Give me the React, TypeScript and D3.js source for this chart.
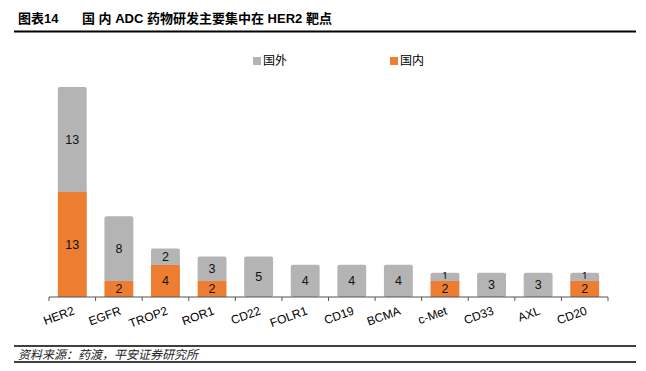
import * as d3 from "d3";

const categories = ["HER2", "EGFR", "TROP2", "ROR1", "CD22", "FOLR1", "CD19", "BCMA", "c-Met", "CD33", "AXL", "CD20"];
const domestic = [13, 2, 4, 2, 0, 0, 0, 0, 2, 0, 0, 2];
const foreign = [13, 8, 2, 3, 5, 4, 4, 4, 1, 3, 3, 1];
const seriesNames = ["国内", "国外"];
const colors = ["#ED7D31", "#B4B4B4"];

const width = 646,
  height = 371,
  axisLeft = 49,
  axisRight = 608,
  baseline = 297,
  top = 87;

const font = "'Liberation Sans', Arial, 'Noto Sans CJK SC', sans-serif";

export default function App() {
  const x = d3.scaleBand<string>().domain(categories).range([axisLeft, axisRight]).paddingInner(0.38).paddingOuter(0.19);
  const y = d3.scaleLinear().domain([0, 26]).range([baseline, top]);

  const rows = categories.map((c, i) => ({ cat: c, domestic: domestic[i], foreign: foreign[i] }));
  const stacked = d3.stack<any>().keys(["domestic", "foreign"])(rows);
  const step = (axisRight - axisLeft) / categories.length;

  return (
    <svg width={width} height={height} style={{ position: "absolute", left: 0, top: 0, background: "#fff" }} fontFamily={font}>
      {/* title */}
      <text x={18} y={23} fontSize={13} fontWeight="bold" fill="#000">图表14</text>
      <text x={82} y={23} fontSize={13} fontWeight="bold" fill="#000">国 内 ADC 药物研发主要集中在 HER2 靶点</text>
      <line x1={14} x2={636} y1={31.5} y2={31.5} stroke="#000" strokeWidth={2} />

      {/* legend */}
      <rect x={253} y={57} width={8} height={8} fill={colors[1]} />
      <text x={263} y={65} fontSize={12} fill="#000">{seriesNames[1]}</text>
      <rect x={390} y={57} width={8} height={8} fill={colors[0]} />
      <text x={400} y={65} fontSize={12} fill="#000">{seriesNames[0]}</text>

      {/* bars */}
      {stacked.map((s, si) =>
        s.map((d, i) => {
          const v = d[1] - d[0];
          if (!v) return null;
          const cat = categories[i];
          const y0 = y(d[0]);
          const y1 = y(d[1]);
          const small = y0 - y1 < 12;
          return (
            <g key={si + "-" + i}>
              <rect x={x(cat)} y={y1} width={x.bandwidth()} height={y0 - y1} fill={colors[si]} rx={si === 1 ? 2 : 0} />
              <text x={x(cat)! + x.bandwidth() / 2} y={(y0 + y1) / 2 + (small ? 3.5 : 4.5)} fontSize={small ? 11 : 12.5} textAnchor="middle" fill="#111">{v}</text>
            </g>
          );
        })
      )}
      {/* cover rounded bottom of grey on domestic */}
      {rows.map((r, i) =>
        r.domestic > 0 ? (
          <rect key={"c" + i} x={x(r.cat)} y={y(r.domestic) - 2} width={x.bandwidth()} height={2} fill={colors[1]} />
        ) : null
      )}

      {/* axis */}
      <line x1={axisLeft} x2={axisRight} y1={baseline} y2={baseline} stroke="#555" strokeWidth={1.2} />
      {d3.range(categories.length + 1).map((i) => (
        <line key={"t" + i} x1={axisLeft + i * step} x2={axisLeft + i * step} y1={baseline} y2={baseline + 4} stroke="#555" />
      ))}
      {categories.map((c) => {
        const cx = x(c)! + x.bandwidth() / 2 + 3;
        return (
          <text key={"l" + c} transform={`translate(${cx},${baseline + 17}) rotate(-20)`} textAnchor="end" fontSize={12} fill="#000">
            {c}
          </text>
        );
      })}

      {/* footer */}
      <line x1={14} x2={636} y1={346} y2={346} stroke="#000" strokeWidth={1.5} />
      <text x={18} y={358.5} fontSize={12} fontStyle="italic" fill="#222">资料来源：药渡，平安证券研究所</text>
      <line x1={14} x2={636} y1={362} y2={362} stroke="#000" strokeWidth={1.5} />
    </svg>
  );
}
